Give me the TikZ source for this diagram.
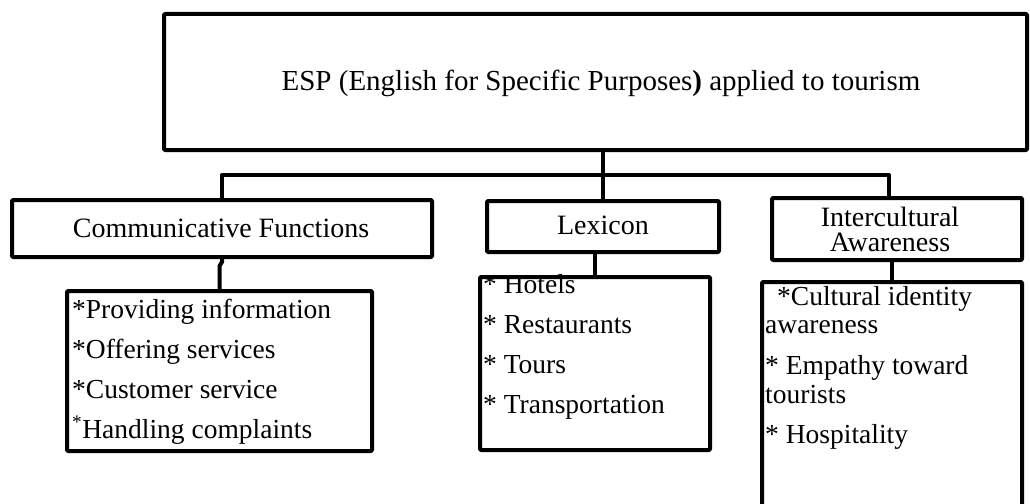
\documentclass[tikz,border=0pt]{standalone}
\usepackage{fontspec}
\setmainfont{Liberation Serif}
\tikzset{
 boxnode/.style={draw, line width=4pt, rectangle, inner sep=0pt, outer sep=0pt, anchor=north west, line join=round, rounded corners=1pt},
 conn/.style={line width=4pt, line join=round},
 lbl/.style={inner sep=0pt, anchor=base, font=\fontsize{28}{30}\selectfont},
 item/.style={inner sep=0pt, anchor=base west, font=\fontsize{27.5}{30}\selectfont},
}
\begin{document}
\begin{tikzpicture}[x=1pt,y=-1pt]
\useasboundingbox (0,0) rectangle (1030,503);
\clip (0,0) rectangle (1030,503);
% top box
\node[boxnode, minimum width=863, minimum height=136] (top) at (164,14) {};
\node[lbl, font=\fontsize{29}{30}\selectfont] (title) at (601,90) {ESP (English for Specific Purposes\textbf{)} applied to tourism};
% second level
\node[boxnode, minimum width=420, minimum height=57] (comm) at (12,200) {};
\node[lbl] (commt) at (221,237) {Communicative Functions};
\node[boxnode, minimum width=232, minimum height=51] (lex) at (487,201) {};
\node[lbl] (lext) at (603,234) {Lexicon};
\node[boxnode, minimum width=250, minimum height=62] (inter) at (772,198) {};
\node[inner sep=0pt, anchor=center, align=center, font=\fontsize{28}{25}\selectfont] (intert) at (890,229) {Intercultural\\Awareness};
% lists text
\node[item] (c1) at (72,318) {*Providing information};
\node[item] (c2) at (72,358) {*Offering services};
\node[item] (c3) at (72,398) {*Customer service};
\node[item] (c4) at (72,438) {\textsuperscript{*}Handling complaints};
\node[item] (l1) at (483,293) {* Hotels};
\node[item] (l2) at (483,333) {* Restaurants};
\node[item] (l3) at (483,373) {* Tours};
\node[item] (l4) at (483,413) {* Transportation};
\node[item] (i1) at (777,305) {*Cultural identity};
\node[item] (i2) at (765,333) {awareness};
\node[item] (i3) at (765,374) {* Empathy toward};
\node[item] (i4) at (765,403) {tourists};
\node[item] (i5) at (765,443) {* Hospitality};
% list boxes
\node[boxnode, minimum width=305, minimum height=160] (commlist) at (67,291) {};
\node[boxnode, minimum width=230, minimum height=173] (lexlist) at (480,277) {};
\node[boxnode, minimum width=260, minimum height=270] (interlist) at (762,282) {};
% connectors
\coordinate (bus) at (0,175);
\draw[conn] (lex.north |- top.south) -- (lex.north);
\draw[conn] (comm.north) -- (comm.north |- bus) -- ([xshift=-8pt]inter.north |- bus) -- ([xshift=-8pt]inter.north);
\draw[conn] (comm.south) -- ++(0,5) -- ++(-2.5,4) -- (commlist.north);
\draw[conn] (lexlist.north |- lex.south) -- (lexlist.north);
\draw[conn] (interlist.north |- inter.south) -- (interlist.north);
\end{tikzpicture}
\end{document}
